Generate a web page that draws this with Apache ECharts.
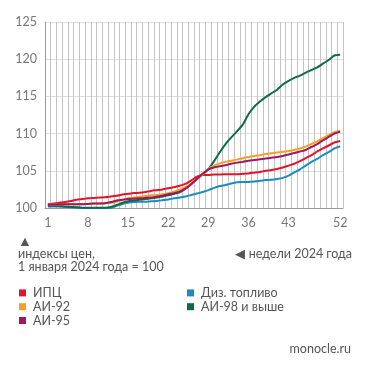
<!DOCTYPE html>
<html>
<head>
<meta charset="utf-8">
<script src="https://cdn.jsdelivr.net/npm/echarts@6/dist/echarts.min.js"></script>
<style>
  html, body { margin: 0; padding: 0; background: #fff; }
  #chart { width: 371px; height: 370px; }
</style>
</head>
<body>
<div id="chart"></div>
<script>
// недели 1..52
var weeks = [];
for (var w = 1; w <= 52; w++) weeks.push(String(w));
var weekLabels = ['1', '8', '15', '22', '29', '36', '43', '52'];
var yTicks = [100, 105, 110, 115, 120, 125];

var cpi = [100.5,100.6,100.7,100.8,100.95,101.1,101.2,101.3,101.35,101.4,101.45,101.55,101.65,101.8,101.9,102.0,
  102.05,102.15,102.3,102.4,102.5,102.65,102.8,103.0,103.25,103.7,104.2,104.45,104.45,104.5,104.5,104.55,
  104.55,104.55,104.6,104.65,104.75,104.85,105.0,105.1,105.25,105.45,105.7,105.95,106.3,106.7,107.1,107.6,
  108.0,108.4,108.8,109.0];
var ai92 = [100.4,100.45,100.5,100.5,100.5,100.5,100.55,100.55,100.6,100.6,100.65,100.7,100.85,101.1,101.3,101.4,
  101.5,101.6,101.7,101.75,101.85,102.0,102.2,102.45,102.8,103.3,103.9,104.5,105.25,105.7,106.0,106.2,
  106.35,106.5,106.7,106.85,107.0,107.1,107.25,107.35,107.45,107.55,107.65,107.8,108.0,108.25,108.6,108.95,
  109.4,109.8,110.2,110.4];
var ai95 = [100.4,100.45,100.5,100.5,100.5,100.5,100.5,100.55,100.6,100.6,100.65,100.8,101.0,101.1,101.2,101.25,
  101.3,101.35,101.4,101.5,101.65,101.85,102.0,102.2,102.6,103.2,103.9,104.6,105.2,105.45,105.6,105.75,
  105.95,106.1,106.2,106.35,106.45,106.55,106.65,106.75,106.85,107.0,107.2,107.4,107.6,107.8,108.2,108.6,
  109.1,109.55,110.0,110.25];
var diesel = [100.2,100.2,100.2,100.15,100.1,100.05,100.0,99.95,99.95,99.95,99.95,100.0,100.3,100.55,100.7,100.8,
  100.85,100.85,100.9,100.95,101.05,101.15,101.3,101.4,101.55,101.75,101.95,102.15,102.4,102.7,102.95,103.1,
  103.3,103.45,103.5,103.5,103.55,103.65,103.75,103.8,103.9,104.05,104.35,104.8,105.2,105.7,106.2,106.6,
  107.1,107.5,108.0,108.3];
var ai98 = [100.3,100.3,100.25,100.2,100.15,100.1,100.05,100.05,100.05,100.05,100.05,100.15,100.4,100.7,100.9,101.0,
  101.1,101.2,101.3,101.4,101.55,101.7,101.9,102.1,102.6,103.2,103.9,104.5,105.2,106.3,107.5,108.6,
  109.5,110.3,111.2,112.6,113.6,114.3,114.9,115.4,115.9,116.6,117.1,117.5,117.8,118.2,118.55,118.9,
  119.4,119.9,120.5,120.6];

var names = ['ИПЦ', 'АИ-92', 'АИ-95', 'Диз. топливо', 'АИ-98 и выше'];
var colors = ['#e2142d', '#f4a020', '#a1165e', '#1a8dc0', '#0d6b4c'];
var values = [cpi, ai92, ai95, diesel, ai98];

var font = 'Lato, "Open Sans", sans-serif';
var chart = echarts.init(document.getElementById('chart'));

// порядок отрисовки: дизель снизу
var drawOrder = [3, 0, 4, 1, 2];
var series = drawOrder.map(function (i) {
  return {
    name: names[i],
    type: 'line',
    data: values[i],
    symbol: 'none',
    smooth: 0.2,
    lineStyle: { width: 2, color: colors[i] },
    itemStyle: { color: colors[i] }
  };
});

var legendBase = {
  orient: 'vertical',
  icon: 'rect',
  itemWidth: 7,
  itemHeight: 7,
  itemGap: 0,
  padding: 0,
  top: 286,
  selectedMode: false,
  textStyle: { fontFamily: font, fontSize: 12.5, lineHeight: 13.8, color: '#555', padding: [0, 0, 0, 2] }
};

chart.setOption({
  animation: false,
  color: colors,
  grid: { left: 45, right: 28, top: 22, bottom: 162, containLabel: false },
  legend: [
    Object.assign({}, legendBase, { left: 19, data: names.slice(0, 3) }),
    Object.assign({}, legendBase, { left: 187, data: names.slice(3) })
  ],
  xAxis: {
    type: 'category',
    data: weeks,
    boundaryGap: true,
    axisLine: { lineStyle: { color: '#9a9a9a', width: 1 } },
    axisTick: { show: false, interval: 0 },
    axisLabel: {
      color: '#777',
      fontFamily: font,
      fontSize: 12.5,
      margin: 8,
      interval: function (idx, val) { return weekLabels.indexOf(val) >= 0; }
    },
    splitLine: { show: true, interval: 0, lineStyle: { color: '#c4c4c4', width: 1 } }
  },
  yAxis: {
    type: 'value',
    min: yTicks[0],
    max: yTicks[yTicks.length - 1],
    interval: 5,
    axisLine: { show: true, lineStyle: { color: '#9a9a9a', width: 1 } },
    axisTick: { show: false },
    axisLabel: { color: '#777', fontFamily: font, fontSize: 12.5, margin: 8 },
    splitLine: { lineStyle: { color: '#dedede', width: 1 } }
  },
  graphic: [
    { type: 'text', left: 18, top: 234, style: { text: '▲', fill: '#555', font: '14px ' + font } },
    { type: 'text', left: 18, top: 247, style: { text: 'индексы цен,', fill: '#555', font: '12.5px ' + font } },
    { type: 'text', left: 18, top: 260, style: { text: '1 января 2024 года = 100', fill: '#555', font: '12.5px ' + font } },
    { type: 'text', right: 19, top: 247, style: { text: '◀ недели 2024 года', fill: '#555', font: '12.5px ' + font } },
    { type: 'text', right: 20, top: 342, style: { text: 'monocle.ru', fill: '#555', font: '12.5px ' + font } }
  ],
  series: series
});
</script>
</body>
</html>
